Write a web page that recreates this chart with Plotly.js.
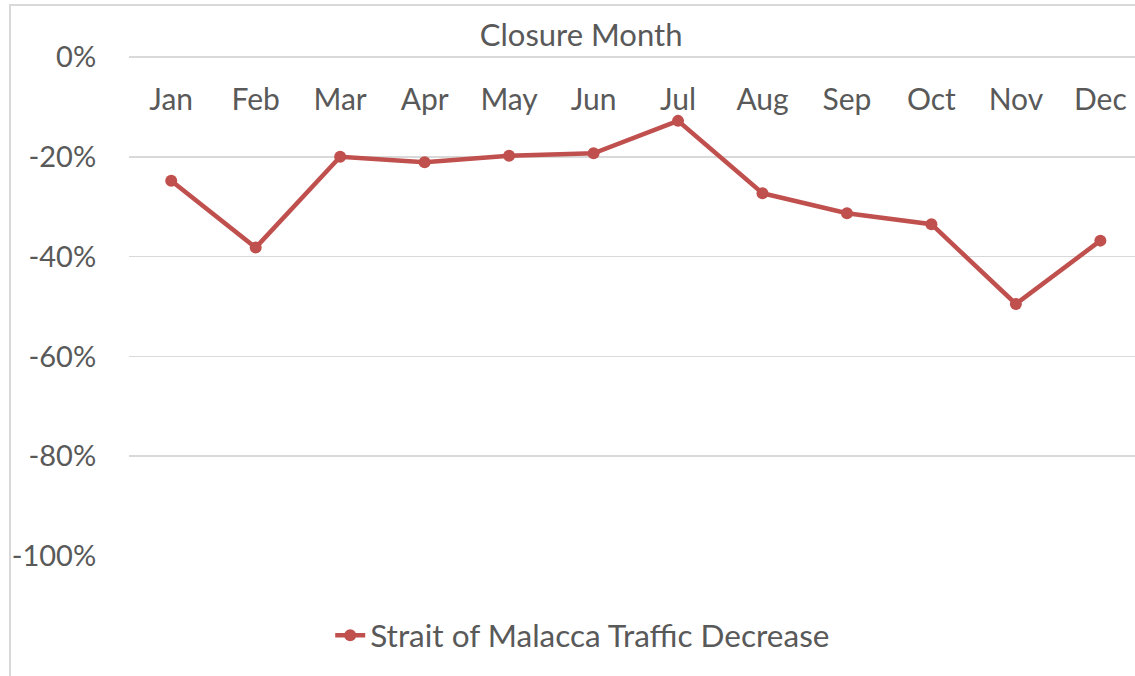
<!DOCTYPE html>
<html>
<head>
<meta charset="utf-8">
<script src="https://cdn.plot.ly/plotly-3.0.1.min.js"></script>
<style>
  html, body { margin: 0; padding: 0; background: #ffffff; overflow: hidden; }
  #frame { position: absolute; left: 9px; top: 4px; width: 1200px; height: 800px;
           border-left: 2px solid #d9d9d9; border-top: 2px solid #d9d9d9; }
  #chart { position: absolute; left: 0; top: 0; width: 1135px; height: 676px; }
</style>
</head>
<body>
<div id="frame"></div>
<div id="chart"></div>
<script>
const months = ["Jan","Feb","Mar","Apr","May","Jun","Jul","Aug","Sep","Oct","Nov","Dec"];
const trafficDecrease = [-0.248, -0.382, -0.200, -0.211, -0.198, -0.193, -0.128, -0.273, -0.313, -0.335, -0.495, -0.368];
const yTickValues = [0, -0.2, -0.4, -0.6, -0.8, -1.0];
const yTickLabels = ["0%", "-20%", "-40%", "-60%", "-80%", "-100%"];
const seriesName = "Strait of Malacca Traffic Decrease";
const xTitle = "Closure Month";

const fontFam = "Lato, 'Open Sans', sans-serif";
const grey = "#595959";
const red = "#c0504d";

const trace = {
  x: months,
  y: trafficDecrease,
  type: "scatter",
  mode: "lines+markers",
  name: seriesName,
  line: { color: red, width: 4.5 },
  marker: { color: red, size: 12 },
  showlegend: true
};

const layout = {
  width: 1135,
  height: 676,
  margin: { l: 129, r: 0, t: 55, b: 120 },
  paper_bgcolor: "rgba(0,0,0,0)",
  plot_bgcolor: "rgba(0,0,0,0)",
  font: { family: fontFam, color: grey, size: 31 },
  title: {
    text: xTitle,
    font: { family: fontFam, color: grey, size: 31 },
    xref: "container", yref: "container",
    x: 0.512, xanchor: "center",
    y: 1 - 35/676, yanchor: "middle"
  },
  xaxis: {
    type: "category",
    side: "top",
    anchor: "free",
    position: 0.879,
    range: [-0.5, 11.41],
    showgrid: false,
    zeroline: false,
    showline: false,
    ticks: "",
    tickfont: { family: fontFam, color: grey, size: 30 },
    fixedrange: true
  },
  yaxis: {
    range: [-1, 0.004],
    tickmode: "array",
    tickvals: yTickValues,
    ticktext: yTickLabels,
    showgrid: true,
    gridcolor: "#d9d9d9",
    gridwidth: 1.5,
    zeroline: false,
    showline: false,
    ticks: "outside",
    ticklen: 26,
    tickcolor: "rgba(0,0,0,0)",
    tickfont: { family: fontFam, color: grey, size: 29 },
    fixedrange: true
  },
  showlegend: true,
  legend: {
    orientation: "h",
    x: 0.451, xanchor: "center",
    y: -0.158, yanchor: "middle",
    font: { family: fontFam, color: grey, size: 31.5 },
    bgcolor: "rgba(0,0,0,0)"
  }
};

Plotly.newPlot("chart", [trace], layout, { displayModeBar: false, staticPlot: true });
</script>
</body>
</html>
